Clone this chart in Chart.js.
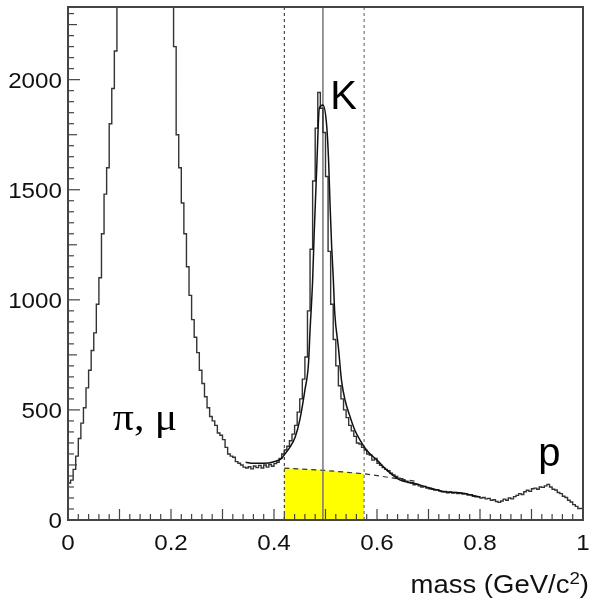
<!DOCTYPE html>
<html>
<head>
<meta charset="utf-8">
<script src="https://cdn.jsdelivr.net/npm/chart.js@4.4.0/dist/chart.umd.min.js"></script>
<style>
    body { margin: 0; background: #fff; }
    canvas { display: block; }
</style>
</head>
<body>
<canvas id="massChart" width="592" height="600"></canvas>
<script>
"use strict";

// histogram: 200 bins of 0.005 GeV/c2 from 0 to 1
const binWidth = 0.005;
const counts = [
    45, 168, 181, 230, 290, 370, 440, 510, 600, 680, 770, 850, 980, 1100, 1300, 1480, 1600, 1800, 1960, 2130,
    2450, 2800, 3100, 3400, 3700, 3900, 4100, 4200, 4300, 4300, 4250, 4150, 4000, 3850, 3650, 3400, 3150, 2950, 2750, 2600, 2450, 2400,
    2150, 1750, 1600, 1440, 1300, 1150, 1020, 910, 830, 760, 680, 620, 560, 510, 470, 450, 430, 395, 385, 365, 330, 300, 290, 285, 265, 258, 250, 240,
    236, 242, 232, 245, 238, 248, 236, 250, 240, 252, 244, 256, 262,
    280, 300, 318, 335, 360, 390, 430, 490, 550, 640, 740, 950, 1230, 1540, 1780, 1942, 1870,
    1760, 1560, 1220, 980, 820, 700, 610, 550, 500, 465, 430, 405, 380, 350, 345, 330, 318, 300, 295, 272,
    280, 258, 248, 238, 230, 224, 212, 205, 198, 190, 188, 180, 176, 170, 168, 160, 162, 155, 150, 152,
    145, 142, 140, 136, 138, 131, 128, 130, 124, 127, 122, 125, 120, 122, 118, 120, 113, 115, 108, 105,
    106, 100, 102, 96, 98, 90, 92, 84, 80, 86, 95, 90, 100, 96, 106, 112, 120, 116, 128, 135,
    130, 142, 145, 140, 150, 148, 155, 162, 150, 140, 136, 125, 120, 108, 102, 90, 82, 70, 62, 52
];

// fitted kaon peak + background
const fitX = [0.345, 0.36, 0.38, 0.40, 0.415, 0.421, 0.431, 0.441, 0.450, 0.460, 0.467, 0.470, 0.475, 0.478, 0.483, 0.488,
    0.495, 0.502, 0.506, 0.509, 0.512, 0.515, 0.518, 0.525, 0.531, 0.538, 0.548, 0.557, 0.567, 0.580, 0.600, 0.619,
    0.645, 0.670, 0.703, 0.735, 0.767, 0.800];
const fitY = [262, 258, 258, 265, 280, 300, 331, 376, 454, 590, 712, 862, 1088, 1300, 1602, 1871,
    1885, 1799, 1633, 1421, 1240, 1104, 939, 785, 635, 544, 467, 408, 363, 317, 272, 227,
    181, 168, 145, 127, 122, 104];

// background under the peak (dashed), yellow part is inside the mass window
const bgX = [0.42, 0.495, 0.575, 0.68];
const bgY = [236, 226, 210, 174];

const cutLow = 0.42;
const kaonMass = 0.495;
const cutHigh = 0.575;

const xTicks = [0, 0.2, 0.4, 0.6, 0.8, 1];
const xTickLabels = ['0', '0.2', '0.4', '0.6', '0.8', '1'];
const yTicks = [0, 500, 1000, 1500, 2000];
const yTickLabels = ['0', '500', '1000', '1500', '2000'];
const yMax = 2330;

// build point lists for the library
const histPoints = [{ x: 0, y: 0 }].concat(counts.map((c, i) => ({ x: i * binWidth, y: c })));
histPoints.push({ x: 1, y: counts[counts.length - 1] });
const fitPoints = fitX.map((x, i) => ({ x: x, y: fitY[i] }));
const bgPoints = bgX.map((x, i) => ({ x: x, y: bgY[i] }));
const windowPoints = bgPoints.filter(p => p.x <= cutHigh);

function vline(x) {
    return [{ x: x, y: 0 }, { x: x, y: yMax }];
}

// text a bit wider than the canvas font, like the original plot
function wideText(ctx, text, x, y, stretch) {
    ctx.save();
    ctx.translate(x, y);
    ctx.scale(stretch, 1);
    ctx.fillText(text, 0, 0);
    ctx.restore();
}

// frame, inside ticks, labels - ROOT look
const rootStyle = {
    id: 'rootStyle',
    afterDatasetsDraw(chart) {
        const ctx = chart.ctx;
        const a = chart.chartArea;
        const xs = chart.scales.x;
        const ys = chart.scales.y;
        ctx.save();

        ctx.strokeStyle = '#444';
        ctx.lineWidth = 1.2;
        // x ticks every 0.02, longer at 0.1
        for (let k = 1; k < 50; k++) {
            const px = xs.getPixelForValue(k * 0.02);
            const len = k % 5 === 0 ? 11 : 6;
            ctx.beginPath();
            ctx.moveTo(px, a.bottom);
            ctx.lineTo(px, a.bottom - len);
            ctx.stroke();
        }
        // y ticks every 50, longer at 250
        for (let k = 1; k * 50 < yMax; k++) {
            const py = ys.getPixelForValue(k * 50);
            const len = k % 10 === 0 ? 12 : (k % 5 === 0 ? 9 : 6);
            ctx.beginPath();
            ctx.moveTo(a.left, py);
            ctx.lineTo(a.left + len, py);
            ctx.stroke();
        }

        // frame
        ctx.lineWidth = 2;
        ctx.strokeStyle = '#444';
        ctx.strokeRect(a.left, a.top, a.right - a.left, a.bottom - a.top);

        // tick labels
        ctx.fillStyle = '#111';
        ctx.font = '22px "Liberation Sans", Arial, sans-serif';
        ctx.textAlign = 'center';
        ctx.textBaseline = 'alphabetic';
        xTicks.forEach((v, i) => {
            wideText(ctx, xTickLabels[i], xs.getPixelForValue(v), a.bottom + 30, 1.1);
        });
        ctx.textAlign = 'right';
        yTicks.forEach((v, i) => {
            wideText(ctx, yTickLabels[i], a.left - 6, ys.getPixelForValue(v) + 8, 1.1);
        });

        // axis title with superscript
        const stretch = 1.1;
        const main = 'mass (GeV/c';
        ctx.font = '25px "Liberation Sans", Arial, sans-serif';
        const w1 = ctx.measureText(main).width * stretch;
        const w3 = ctx.measureText(')').width * stretch;
        ctx.font = '17px "Liberation Sans", Arial, sans-serif';
        const w2 = ctx.measureText('2').width * stretch;
        const tx = 589 - (w1 + w2 + w3);
        const ty = 593;
        ctx.textAlign = 'left';
        ctx.font = '25px "Liberation Sans", Arial, sans-serif';
        wideText(ctx, main, tx, ty, stretch);
        ctx.font = '17px "Liberation Sans", Arial, sans-serif';
        wideText(ctx, '2', tx + w1, ty - 9, stretch);
        ctx.font = '25px "Liberation Sans", Arial, sans-serif';
        wideText(ctx, ')', tx + w1 + w2, ty, stretch);

        // particle labels
        ctx.fillStyle = '#000';
        ctx.font = '38px "Liberation Serif", "DejaVu Serif", serif';
        wideText(ctx, 'π, μ', xs.getPixelForValue(0.087), ys.getPixelForValue(408), 1.1);
        ctx.font = '40px "Liberation Sans", Arial, sans-serif';
        ctx.fillText('K', xs.getPixelForValue(0.509), ys.getPixelForValue(1868));
        ctx.fillText('p', xs.getPixelForValue(0.913), ys.getPixelForValue(245));

        ctx.restore();
    }
};

const ctx = document.getElementById('massChart').getContext('2d');
const chart = new Chart(ctx, {
    type: 'line',
    data: {
        datasets: [
            {
                // fit curve
                data: fitPoints,
                borderColor: '#111',
                borderWidth: 1.5,
                cubicInterpolationMode: 'monotone',
                pointRadius: 0,
                fill: false
            },
            {
                // measured histogram
                data: histPoints,
                borderColor: '#333',
                borderWidth: 1.4,
                stepped: 'after',
                pointRadius: 0,
                fill: false
            },
            {
                data: vline(kaonMass),
                borderColor: '#777',
                borderWidth: 1.5,
                pointRadius: 0
            },
            {
                data: vline(cutLow),
                borderColor: '#222',
                borderWidth: 1,
                borderDash: [3, 3],
                pointRadius: 0
            },
            {
                data: vline(cutHigh),
                borderColor: '#777',
                borderWidth: 1.2,
                borderDash: [3, 3],
                pointRadius: 0
            },
            {
                // background estimate
                data: bgPoints,
                borderColor: '#333',
                borderWidth: 1.2,
                borderDash: [5, 4],
                pointRadius: 0,
                fill: false
            },
            {
                // yellow: background inside the window
                data: windowPoints,
                borderWidth: 0,
                borderColor: 'rgba(0,0,0,0)',
                backgroundColor: '#ffff00',
                pointRadius: 0,
                fill: 'origin'
            }
        ]
    },
    options: {
        responsive: false,
        animation: false,
        layout: {
            padding: { left: 68, right: 9, top: 7, bottom: 80 }
        },
        plugins: {
            legend: { display: false },
            tooltip: { enabled: false }
        },
        scales: {
            x: {
                type: 'linear',
                min: 0,
                max: 1,
                display: false
            },
            y: {
                type: 'linear',
                min: 0,
                max: yMax,
                display: false
            }
        }
    },
    plugins: [rootStyle]
});
</script>
</body>
</html>
